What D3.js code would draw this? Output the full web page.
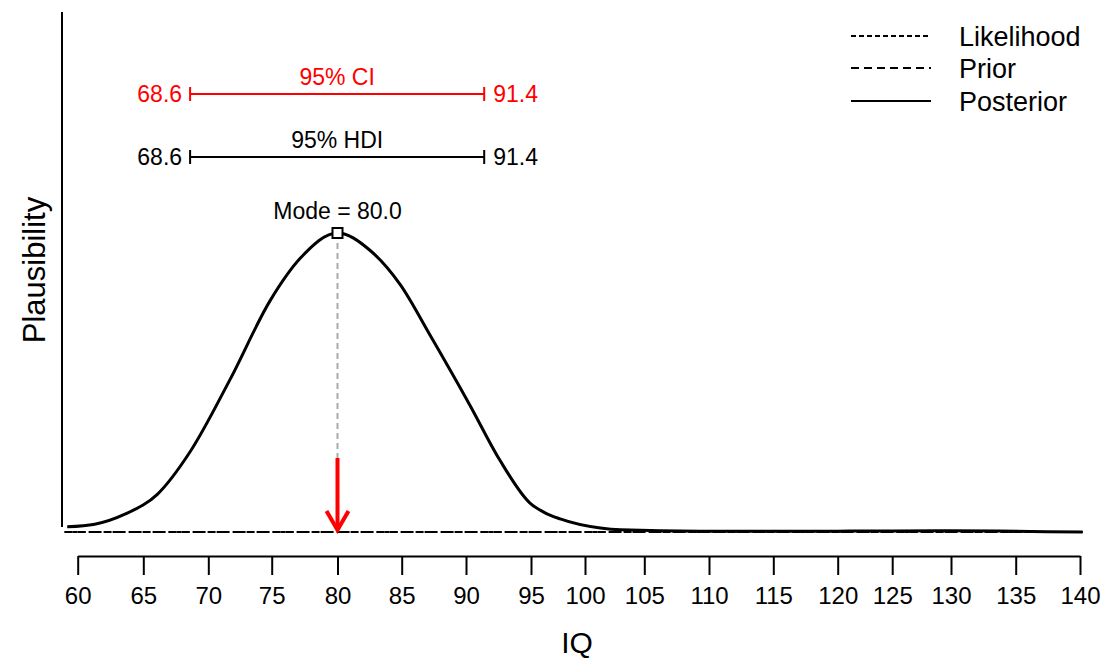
<html>
<head>
<script src="https://cdn.jsdelivr.net/npm/d3@7"></script>
<style>
  body { margin: 0; background: #fff; }
  text { font-family: "Liberation Sans", Arial, sans-serif; fill: #000; }
</style>
</head>
<body>
<svg width="1104" height="660"></svg>
<script>
// posterior density
var iq = [59.2, 61.3, 63.6, 66.1, 68.6, 71.7, 74.9, 77.2, 80.0, 82.5, 84.9, 87.2, 90.3, 92.6, 94.9, 96.3, 97.7, 101.3, 103, 109.3, 120, 130, 140.2];
var density = [0.0012, 0.0018, 0.0041, 0.0087, 0.0184, 0.0349, 0.0532, 0.0629, 0.0686, 0.0647, 0.0567, 0.0452, 0.0291, 0.0165, 0.0067, 0.0044, 0.0030, 0.0009, 0.0005, 0.0002, 0.0002, 0.0003, 0.0000];
var xTicks = [60, 65, 70, 75, 80, 85, 90, 95, 100, 105, 110, 115, 120, 125, 130, 135, 140];
var mode = 80.0;
var ci = [68.6, 91.4];
var hdi = [68.6, 91.4];
var legendNames = ['Likelihood', 'Prior', 'Posterior'];

var svg = d3.select('svg');

// the tick marks in the picture are not evenly spaced, so the scale is piecewise
var x = d3.scaleLinear()
    .domain(xTicks)
    .range([77.7, 143.3, 208.3, 271.7, 337.5, 401.7, 466, 531, 585, 644.3, 709, 773.3, 837.7, 892.2, 951, 1015.7, 1080]);
var y = d3.scaleLinear()
    .domain([0, d3.max(density)])
    .range([532, 233]);

var pts = iq.map((d, i) => ({ x: d, y: density[i] }));

// y axis (plain line, no ticks)
svg.append('line')
    .attr('x1', 62).attr('x2', 62)
    .attr('y1', 12).attr('y2', 527)
    .style('stroke', '#000').style('stroke-width', 2);

svg.append('text')
    .attr('transform', 'translate(45,270) rotate(-90)')
    .attr('text-anchor', 'middle')
    .style('font-size', '31px')
    .text('Plausibility');

// x axis
var xAxis = d3.axisBottom(x)
    .tickValues(xTicks)
    .tickSize(19)
    .tickSizeOuter(0)
    .tickPadding(12);
var gx = svg.append('g')
    .attr('transform', 'translate(0,556)')
    .call(xAxis);
gx.select('.domain').style('stroke-width', 2);
gx.selectAll('.tick line').style('stroke-width', 2);
gx.selectAll('.tick text')
    .style('font-size', '24px')
    .style('font-family', '"Liberation Sans", Arial, sans-serif');

svg.append('text')
    .attr('x', 577).attr('y', 653)
    .attr('text-anchor', 'middle')
    .style('font-size', '30px')
    .text('IQ');

// flat likelihood and prior at zero
svg.append('line')
    .attr('x1', x(59)).attr('x2', x(140.2))
    .attr('y1', y(0)).attr('y2', y(0))
    .style('stroke', '#000').style('stroke-width', 2)
    .style('stroke-dasharray', '8,5');
svg.append('line')
    .attr('x1', x(59)).attr('x2', x(140.2))
    .attr('y1', y(0)).attr('y2', y(0))
    .style('stroke', '#000').style('stroke-width', 2)
    .style('stroke-dasharray', '5,3');

// posterior
var line = d3.line()
    .x(d => x(d.x))
    .y(d => y(d.y))
    .curve(d3.curveMonotoneX);
svg.append('path')
    .datum(pts)
    .attr('d', line)
    .style('fill', 'none')
    .style('stroke', '#000')
    .style('stroke-width', 3);

// mode marker
svg.append('line')
    .attr('x1', x(mode)).attr('x2', x(mode))
    .attr('y1', y(d3.max(density))).attr('y2', 458)
    .style('stroke', '#aaa').style('stroke-width', 2)
    .style('stroke-dasharray', '6,4');
svg.append('rect')
    .attr('x', x(mode) - 5).attr('y', y(d3.max(density)) - 5)
    .attr('width', 10).attr('height', 10)
    .style('fill', '#fff').style('stroke', '#000').style('stroke-width', 2);
svg.append('text')
    .attr('x', x(mode)).attr('y', 219)
    .attr('text-anchor', 'middle')
    .style('font-size', '23px')
    .text('Mode = ' + mode.toFixed(1));

// red arrow
svg.append('line')
    .attr('x1', x(mode)).attr('x2', x(mode))
    .attr('y1', 458).attr('y2', y(0) - 2)
    .style('stroke', '#ff0000').style('stroke-width', 4);
svg.append('path')
    .attr('d', 'M' + (x(mode) - 11) + ',511 L' + x(mode) + ',530 L' + (x(mode) + 11) + ',511')
    .style('fill', 'none').style('stroke', '#ff0000').style('stroke-width', 4);

// interval bars
function interval(vals, yy, color, label) {
    var g = svg.append('g');
    g.append('line')
        .attr('x1', x(vals[0])).attr('x2', x(vals[1]))
        .attr('y1', yy).attr('y2', yy)
        .style('stroke', color).style('stroke-width', 2);
    vals.forEach(v => {
        g.append('line')
            .attr('x1', x(v)).attr('x2', x(v))
            .attr('y1', yy - 7).attr('y2', yy + 7)
            .style('stroke', color).style('stroke-width', 2);
    });
    g.append('text')
        .attr('x', x(vals[0]) - 8).attr('y', yy + 8)
        .attr('text-anchor', 'end')
        .style('font-size', '23px').style('fill', color)
        .text(vals[0].toFixed(1));
    g.append('text')
        .attr('x', x(vals[1]) + 9).attr('y', yy + 8)
        .attr('text-anchor', 'start')
        .style('font-size', '23px').style('fill', color)
        .text(vals[1].toFixed(1));
    g.append('text')
        .attr('x', (x(vals[0]) + x(vals[1])) / 2).attr('y', yy - 9)
        .attr('text-anchor', 'middle')
        .style('font-size', '23px').style('fill', color)
        .text(label);
}
interval(ci, 94, '#ff0000', '95% CI');
interval(hdi, 157, '#000', '95% HDI');

// legend
var dashes = ['5,3', '8,5', null];
var legend = svg.selectAll('.legend')
    .data(legendNames)
    .enter()
    .append('g')
    .attr('class', 'legend')
    .attr('transform', (d, i) => 'translate(851,' + [36, 68, 101][i] + ')');
legend.append('line')
    .attr('x1', 0).attr('x2', 80)
    .style('stroke', '#000').style('stroke-width', 2)
    .style('stroke-dasharray', (d, i) => dashes[i]);
legend.append('text')
    .attr('x', 108).attr('y', 10)
    .style('font-size', '27px')
    .text(d => d);
</script>
</body>
</html>
